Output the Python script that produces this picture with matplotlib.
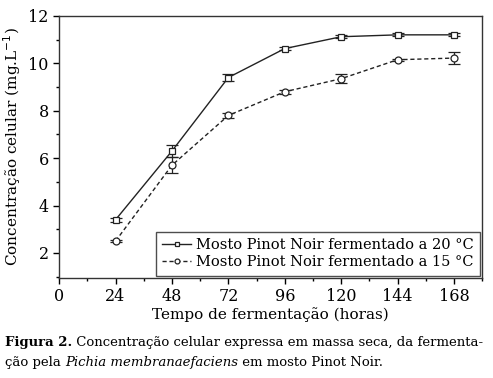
import matplotlib
matplotlib.use("Agg")
import matplotlib.pyplot as plt
from matplotlib.ticker import MultipleLocator
from matplotlib.transforms import offset_copy

plt.rcParams["font.family"] = ["DejaVu Serif"]

hours = [24, 48, 72, 96, 120, 144, 168]
conc_20 = [3.4, 6.3, 9.4, 10.62, 11.12, 11.2, 11.2]
err_20 = [0.08, 0.25, 0.15, 0.07, 0.07, 0.06, 0.06]
conc_15 = [2.5, 5.7, 7.8, 8.8, 9.35, 10.15, 10.22]
err_15 = [0.05, 0.33, 0.12, 0.08, 0.18, 0.05, 0.25]

label_20 = "Mosto Pinot Noir fermentado a 20 °C"
label_15 = "Mosto Pinot Noir fermentado a 15 °C"

fig = plt.figure(figsize=(4.93, 3.78), dpi=100)
ax = fig.add_axes([0.12, 0.265, 0.858, 0.693])

eb20 = ax.errorbar(hours, conc_20, yerr=err_20, color="#222222", lw=1.0, ls="-",
                   marker="s", ms=5, mfc="white", mec="#222222", mew=0.9,
                   capsize=4, elinewidth=0.9, capthick=0.9)
eb15 = ax.errorbar(hours, conc_15, yerr=err_15, color="#222222", lw=1.0, ls=(0, (3, 2)),
                   marker="o", ms=5, mfc="white", mec="#222222", mew=0.9,
                   capsize=4, elinewidth=0.9, capthick=0.9)
ax.plot(hours, conc_15, ls="none", marker=".", ms=1.5, color="#222222")

ax.set_xlim(0, 180)
ax.set_ylim(0.95, 12)
ax.xaxis.set_major_locator(MultipleLocator(24))
ax.xaxis.set_minor_locator(MultipleLocator(12))
ax.yaxis.set_major_locator(MultipleLocator(2))
ax.yaxis.set_minor_locator(MultipleLocator(1))
ax.set_yticks([2, 4, 6, 8, 10, 12])
ax.tick_params(which="major", length=4, width=1, labelsize=11.5, direction="out")
ax.tick_params(which="minor", length=2.5, width=1, direction="out")
for s in ax.spines.values():
    s.set_linewidth(1.0)
    s.set_color("#333333")

ax.set_xlabel("Tempo de fermentação (horas)", fontsize=11, labelpad=1)
ax.set_ylabel("Concentração celular (mg.L$^{-1}$)", fontsize=11, labelpad=4)

leg = ax.legend(handles=[eb20[0], eb15[0]], labels=[label_20, label_15],
                loc="lower right", fontsize=10.5, frameon=True, fancybox=False,
                edgecolor="#222222", handlelength=2.0, handletextpad=0.3,
                borderpad=0.45, labelspacing=0.2, borderaxespad=0.15,
                markerscale=0.7)
leg.get_frame().set_linewidth(1.0)

# caption with mixed styles
parts1 = [("Figura 2.", "bold", "normal"),
          (" Concentração celular expressa em massa seca, da fermenta-", "normal", "normal")]
parts2 = [("ção pela ", "normal", "normal"),
          ("Pichia membranaefaciens", "normal", "italic"),
          (" em mosto Pinot Noir.", "normal", "normal")]

fig.canvas.draw()
renderer = fig.canvas.get_renderer()

# fit the first caption line to the page width
probe = [fig.text(0, 0, t, fontsize=10, weight=w, style=s) for t, w, s in parts1]
width = sum(p.get_window_extent(renderer).width for p in probe)
for p in probe:
    p.remove()
size = 10 * 482 / width

for y, parts in [(0.085, parts1), (0.032, parts2)]:
    dx = 0
    for txt, weight, style in parts:
        t = fig.text(0.01, y, txt, fontsize=size, weight=weight, style=style,
                     transform=offset_copy(fig.transFigure, fig=fig, x=dx, y=0, units="dots"),
                     va="baseline", ha="left")
        dx += t.get_window_extent(renderer).width

fig.savefig("out.png", dpi=100)
